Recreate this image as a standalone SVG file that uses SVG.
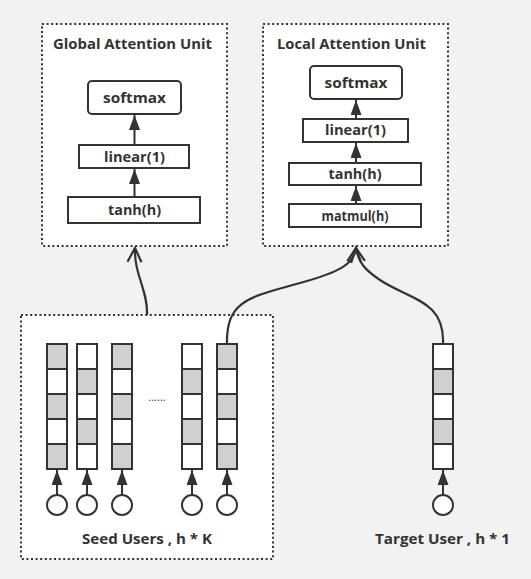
<svg xmlns="http://www.w3.org/2000/svg" width="531" height="579" viewBox="0 0 531 579">
<style>
.bg{fill:#f2f2f2}
.group{fill:#fff;stroke:#333;stroke-width:2;stroke-dasharray:2 2.6}
.box{fill:#fff;stroke:#333;stroke-width:2}
.t{font-family:"Open Sans","Noto Sans",sans-serif;font-weight:bold;fill:#333;text-anchor:middle;font-size:14.5px}
.w{fill:#fff;stroke:#333;stroke-width:2}
.g{fill:#d0d0d0;stroke:#333;stroke-width:2}
.ln{fill:none;stroke:#333;stroke-width:2}
.cur{fill:none;stroke:#333;stroke-width:2.2}
</style>
<defs>
<marker id="fa" markerUnits="userSpaceOnUse" markerWidth="16" markerHeight="12" refX="15" refY="5.5" orient="auto" viewBox="0 0 16 12">
<path d="M0,0 L15,5.5 L0,11 Z" fill="#333"/>
</marker>
<marker id="oa" markerUnits="userSpaceOnUse" markerWidth="18" markerHeight="18" refX="15" refY="8" orient="auto" viewBox="0 0 18 18">
<path d="M1,1 L15,8 L1,15" fill="none" stroke="#333" stroke-width="2.2"/>
</marker>
</defs>
<rect class="bg" x="0" y="0" width="531" height="579"/>

<g id="global-unit">
<rect class="group" x="42" y="24" width="185" height="222"/>
<text class="t" x="132.5" y="49" textLength="159" lengthAdjust="spacingAndGlyphs">Global Attention Unit</text>
</g>
<g id="g-softmax"><rect class="box" x="88" y="81" width="93" height="33" rx="4"/><text class="t" x="134.5" y="103" textLength="63" lengthAdjust="spacingAndGlyphs">softmax</text></g>
<g id="g-linear"><rect class="box" x="79" y="145" width="110" height="23"/><text class="t" x="134.5" y="162" textLength="61" lengthAdjust="spacingAndGlyphs">linear(1)</text></g>
<g id="g-tanh"><rect class="box" x="68" y="197" width="132" height="26"/><text class="t" x="134.5" y="215" textLength="53" lengthAdjust="spacingAndGlyphs">tanh(h)</text></g>

<g id="local-unit">
<rect class="group" x="263" y="24" width="185" height="222"/>
<text class="t" x="351.5" y="49" textLength="149" lengthAdjust="spacingAndGlyphs">Local Attention Unit</text>
</g>
<g id="l-softmax"><rect class="box" x="310" y="66" width="92" height="33" rx="4"/><text class="t" x="356" y="88" textLength="63" lengthAdjust="spacingAndGlyphs">softmax</text></g>
<g id="l-linear"><rect class="box" x="303" y="119" width="105" height="23"/><text class="t" x="355.5" y="135" textLength="61" lengthAdjust="spacingAndGlyphs">linear(1)</text></g>
<g id="l-tanh"><rect class="box" x="289" y="163" width="132" height="22"/><text class="t" x="355" y="179" textLength="53" lengthAdjust="spacingAndGlyphs">tanh(h)</text></g>
<g id="l-matmul"><rect class="box" x="289" y="204" width="132" height="23"/><text class="t" x="355" y="221" textLength="67" lengthAdjust="spacingAndGlyphs">matmul(h)</text></g>

<g id="seed-users">
<rect class="group" x="21" y="315" width="252" height="244"/>
<text class="t" x="147" y="544" textLength="130" lengthAdjust="spacingAndGlyphs">Seed Users , h * K</text>
<text class="t" x="157" y="401" font-size="11" style="font-weight:normal;font-size:11px">......</text>
</g>

<g id="seed-1">
<rect class="g" x="47" y="344" width="20" height="25"/><rect class="w" x="47" y="369" width="20" height="25"/><rect class="g" x="47" y="394" width="20" height="25"/><rect class="w" x="47" y="419" width="20" height="25"/><rect class="g" x="47" y="444" width="20" height="25"/>
<circle class="w" cx="57" cy="505" r="10"/>
</g>
<g id="seed-2">
<rect class="w" x="77" y="344" width="20" height="25"/><rect class="g" x="77" y="369" width="20" height="25"/><rect class="w" x="77" y="394" width="20" height="25"/><rect class="g" x="77" y="419" width="20" height="25"/><rect class="w" x="77" y="444" width="20" height="25"/>
<circle class="w" cx="87" cy="505" r="10"/>
</g>
<g id="seed-3">
<rect class="g" x="112" y="344" width="20" height="25"/><rect class="w" x="112" y="369" width="20" height="25"/><rect class="g" x="112" y="394" width="20" height="25"/><rect class="w" x="112" y="419" width="20" height="25"/><rect class="g" x="112" y="444" width="20" height="25"/>
<circle class="w" cx="122" cy="505" r="10"/>
</g>
<g id="seed-4">
<rect class="w" x="182" y="344" width="20" height="25"/><rect class="g" x="182" y="369" width="20" height="25"/><rect class="w" x="182" y="394" width="20" height="25"/><rect class="g" x="182" y="419" width="20" height="25"/><rect class="w" x="182" y="444" width="20" height="25"/>
<circle class="w" cx="192" cy="505" r="10"/>
</g>
<g id="seed-5">
<rect class="g" x="217" y="344" width="20" height="25"/><rect class="w" x="217" y="369" width="20" height="25"/><rect class="g" x="217" y="394" width="20" height="25"/><rect class="w" x="217" y="419" width="20" height="25"/><rect class="g" x="217" y="444" width="20" height="25"/>
<circle class="w" cx="227" cy="505" r="10"/>
</g>

<g id="target-user">
<rect class="w" x="433" y="344" width="20" height="25"/><rect class="g" x="433" y="369" width="20" height="25"/><rect class="w" x="433" y="394" width="20" height="25"/><rect class="g" x="433" y="419" width="20" height="25"/><rect class="w" x="433" y="444" width="20" height="25"/>
<circle class="w" cx="443" cy="505" r="10"/>
<text class="t" x="442.5" y="544" textLength="135" lengthAdjust="spacingAndGlyphs">Target User , h * 1</text>
</g>

<g id="connectors">
<line class="ln" x1="134.5" y1="145" x2="134.5" y2="115" marker-end="url(#fa)"/>
<line class="ln" x1="134.5" y1="197" x2="134.5" y2="169" marker-end="url(#fa)"/>
<line class="ln" x1="356" y1="119" x2="356" y2="100" marker-end="url(#fa)"/>
<line class="ln" x1="356" y1="163" x2="356" y2="143" marker-end="url(#fa)"/>
<line class="ln" x1="356" y1="204" x2="356" y2="186" marker-end="url(#fa)"/>
<line class="ln" x1="57" y1="495" x2="57" y2="470" marker-end="url(#fa)"/>
<line class="ln" x1="87" y1="495" x2="87" y2="470" marker-end="url(#fa)"/>
<line class="ln" x1="122" y1="495" x2="122" y2="470" marker-end="url(#fa)"/>
<line class="ln" x1="192" y1="495" x2="192" y2="470" marker-end="url(#fa)"/>
<line class="ln" x1="227" y1="495" x2="227" y2="470" marker-end="url(#fa)"/>
<line class="ln" x1="443" y1="495" x2="443" y2="470" marker-end="url(#fa)"/>
<path class="cur" d="M147,315 C148,290 134,275 135,248" marker-end="url(#oa)"/>
<path class="cur" d="M227,344 C226,300 250,297 300,283 C340,272 354,264 356,248" marker-end="url(#oa)"/>
<path class="cur" d="M443,344 C445,300 410,300 380,280 C365,270 358,262 356,248" marker-end="url(#oa)"/>
</g>
</svg>
